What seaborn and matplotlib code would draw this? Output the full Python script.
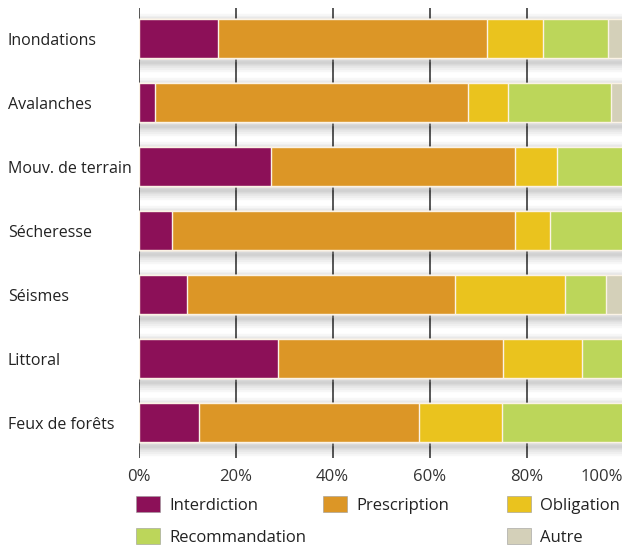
import matplotlib
matplotlib.use("Agg")
import matplotlib.pyplot as plt
import matplotlib.patheffects as pe
from matplotlib.patches import Patch
import numpy as np
import pandas as pd
import seaborn as sns

risques = ["Inondations", "Avalanches", "Mouv. de terrain", "Sécheresse",
           "Séismes", "Littoral", "Feux de forêts"]
categories = ["Interdiction", "Prescription", "Obligation", "Recommandation", "Autre"]
interdiction = [16.3, 3.5, 27.4, 7.0, 9.9, 28.7, 12.5]
prescription = [55.6, 64.5, 50.2, 70.6, 55.4, 46.5, 45.4]
obligation = [11.4, 8.1, 8.6, 7.2, 22.6, 16.3, 17.0]
recommandation = [13.6, 21.3, 13.8, 15.2, 8.5, 8.5, 25.1]
autre = [3.1, 2.6, 0.0, 0.0, 3.6, 0.0, 0.0]
ticks = [0, 20, 40, 60, 80, 100]
tick_labels = ["0%", "20%", "40%", "60%", "80%", "100%"]

colors = ["#8c1058", "#dc9626", "#eac31e", "#bcd65a", "#d4d0b9"]

sns.set_theme(style="white")
plt.rcParams["font.family"] = ["Open Sans", "DejaVu Sans"]

df = pd.DataFrame({"risque": risques, "Interdiction": interdiction,
                   "Prescription": prescription, "Obligation": obligation,
                   "Recommandation": recommandation, "Autre": autre})
cum = df[categories].cumsum(axis=1)
df["total"] = cum[categories[-1]]

W, H = 622, 552
fig = plt.figure(figsize=(W / 100, H / 100), dpi=100)
ax = fig.add_axes([138.5 / W, (H - 458) / H, 485 / W, 450 / H])

bar_w = 0.61

# soft drop shadow drawn behind a full-length backing bar
sns.barplot(data=df, x="total", y="risque", color="white", width=bar_w,
            orient="h", ax=ax, zorder=2)
shadow = []
for lw in [14, 11, 8.5, 6, 4, 2]:
    shadow.append(pe.Stroke(linewidth=lw, foreground="black", alpha=0.03,
                            offset=(0.5, -2.5), joinstyle="round"))
shadow.append(pe.Normal())
for p in ax.patches:
    p.set_path_effects(shadow)
    p.set_linewidth(0)

# stacked segments: cumulative bars drawn longest first
for cat, col in reversed(list(zip(categories, colors))):
    sns.barplot(x=cum[cat], y=df["risque"], color=col, width=bar_w, orient="h",
                ax=ax, saturation=1, edgecolor="#fbf3e6", linewidth=1.0, zorder=3)

ax.set_xlim(0, 100)
ax.set_ylim(6.55, -0.48)
ax.set_xticks(ticks)
ax.set_xticklabels(tick_labels, fontsize=12, color="#333333")
ax.get_xticklabels()[-1].set_horizontalalignment("right")
ax.xaxis.grid(True, color="#4a4a4a", linewidth=1.3, zorder=0)
ax.set_axisbelow(True)
for s in ax.spines.values():
    s.set_visible(False)
ax.tick_params(axis="x", length=0, pad=8)
ax.tick_params(axis="y", length=0, pad=94)
for lab in ax.get_yticklabels():
    lab.set_horizontalalignment("left")
    lab.set_fontsize(11.5)
    lab.set_color("#222222")
ax.set_xlabel("")
ax.set_ylabel("")

# legend laid out in three columns
handles = {c: Patch(facecolor=col, edgecolor="#9a9a9a", linewidth=0.4)
           for c, col in zip(categories, colors)}
columns = [(["Interdiction", "Recommandation"], 136),
           (["Prescription"], 323),
           (["Obligation", "Autre"], 507)]
for names, xpx in columns:
    leg = fig.legend([handles[n] for n in names], names, loc="upper left",
                     bbox_to_anchor=(xpx / W, (H - 496) / H), frameon=False,
                     fontsize=12, borderpad=0, borderaxespad=0,
                     handlelength=1.44, handleheight=1.14, handletextpad=0.55,
                     labelspacing=0.85)
    for t in leg.get_texts():
        t.set_color("#222222")

fig.savefig("out.png", dpi=100)
